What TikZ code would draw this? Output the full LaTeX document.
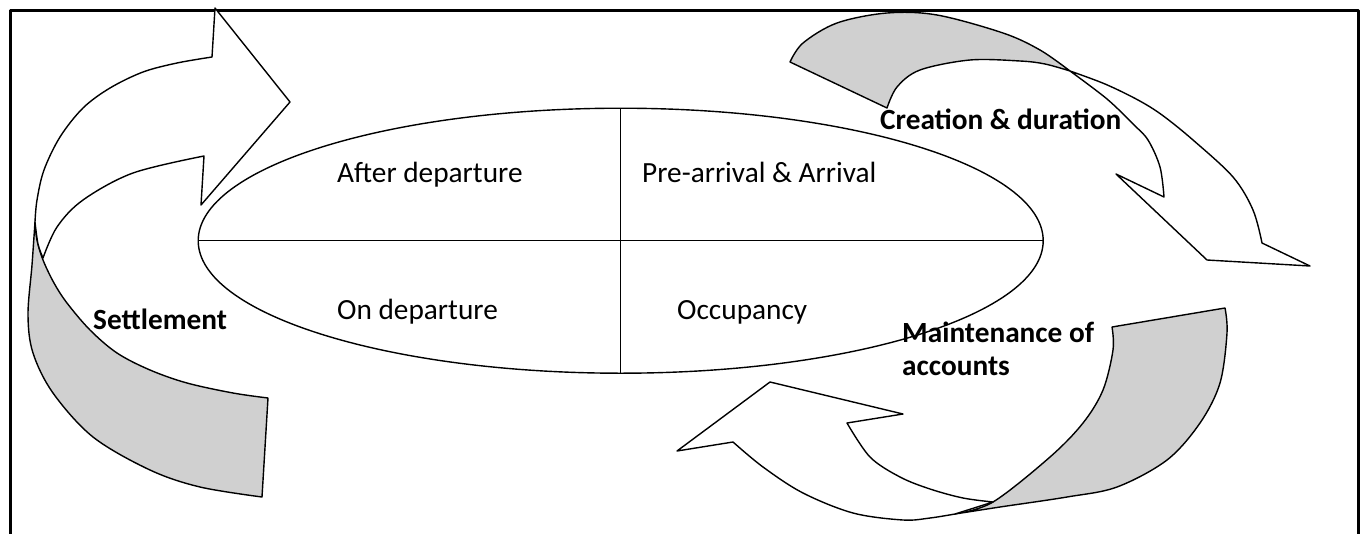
\documentclass[tikz,border=0pt]{standalone}
\usepackage{fontspec}
\setmainfont{Carlito}
\definecolor{ribbon}{RGB}{208,208,208}
\begin{document}
\begin{tikzpicture}[x=1pt,y=-1pt,line join=round,
  outline/.style={draw=black,line width=1.4pt},
  face/.style={outline,fill=white},
  back/.style={outline,fill=ribbon},
  curve/.style={smooth,tension=0.55},
  stage/.style={font=\fontsize{29.3}{33}\selectfont,anchor=base west,inner sep=0pt},
  loop/.style={font=\fontsize{29.3}{33}\selectfont\bfseries,anchor=base west,inner sep=0pt,align=left}]
\useasboundingbox (0,0) rectangle (1365,533);

% page frame (open at the bottom)
\draw[line width=3pt] (10,560) -- (10,10) -- (1358,10) -- (1358,560);

% central ellipse split into four stages
\coordinate (hub) at (620.7,240.7);
\draw[outline] (hub) ellipse [x radius=422.5pt,y radius=132.5pt];
\draw[outline] ([xshift=-422.5pt]hub) -- ([xshift=422.5pt]hub);
\draw[outline] ([yshift=132.5pt]hub) -- ([yshift=-132.5pt]hub);

% left curved arrow: shaded back ribbon
\draw[back] plot[curve] coordinates {(35,222) (32,265) (28,315) (33,353) (53,393) (93,437) (150,470) (200,487) (262,497)}
  -- (268,398)
  -- plot[curve] coordinates {(268,398) (233,393) (187,383) (150,370) (117,353) (90,330) (67,303) (54,283) (43,260) (37,240) (35,222)}
  -- cycle;
% left curved arrow: front face with head
\draw[face] (290,102) -- (215,8) -- (212,57)
  -- plot[curve] coordinates {(212,57) (177,63) (143,72) (110,88) (83,108) (60,137) (44,170) (37,200) (35,222)}
  -- plot[curve] coordinates {(35,222) (38,244) (43,258)}
  -- plot[curve] coordinates {(43,258) (57,227) (83,200) (133,173) (204,156)}
  -- (201,205) -- cycle;

% upper right curved arrow: shaded back ribbon
\draw[back] (790,62)
  -- plot[curve] coordinates {(790,62) (803,43) (837,23) (887,13) (937,15) (1003,33) (1040,50) (1070,71)}
  -- plot[curve] coordinates {(1070,71) (1045,64) (1020,61) (970,60) (920,70) (897,87) (887,108)}
  -- cycle;
% upper right curved arrow: front face with head
\draw[face] (1070,71)
  -- plot[curve] coordinates {(1070,71) (1105,84) (1138,100) (1162,115) (1193,140) (1233,177) (1253,210) (1262,243)}
  -- (1310,266) -- (1207,260) -- (1116,174) -- (1164,197)
  -- plot[curve] coordinates {(1164,197) (1160,167) (1148,140) (1133,124) (1107,99) (1070,71)}
  -- cycle;

% lower right curved arrow: shaded back ribbon
\draw[back] (955,514)
  -- plot[curve] coordinates {(955,514) (993,502) (1050,457) (1083,423) (1103,390) (1113,350) (1112,327)}
  -- (1225,308)
  -- plot[curve] coordinates {(1225,308) (1227,333) (1220,383) (1200,423) (1167,460) (1117,487) (1067,497) (1000,507) (955,514)}
  -- cycle;
% lower right curved arrow: front face with head
\draw[face] (955,514) -- (993,502)
  -- plot[curve] coordinates {(993,502) (963,498) (930,489) (900,477) (870,457) (847,423)}
  -- (903,414) -- (770,382) -- (677,451) -- (733,442)
  -- plot[curve] coordinates {(733,442) (763,467) (803,493) (853,513) (903,520) (930,518) (955,514)}
  -- cycle;

% stage labels
\node[stage] (after) at (337,182) {After departure};
\node[stage] (pre) at (642,182) {Pre-arrival \& Arrival};
\node[stage] (ondep) at (337,319) {On departure};
\node[stage] (occ) at (677,319) {Occupancy};

% loop labels
\node[loop] (settle) at (93,329) {Settlement};
\node[loop] (create) at (880,129) {Creation \& duration};
\node[loop] (maint) at (902,375) {Maintenance of\\accounts};
\end{tikzpicture}
\end{document}
